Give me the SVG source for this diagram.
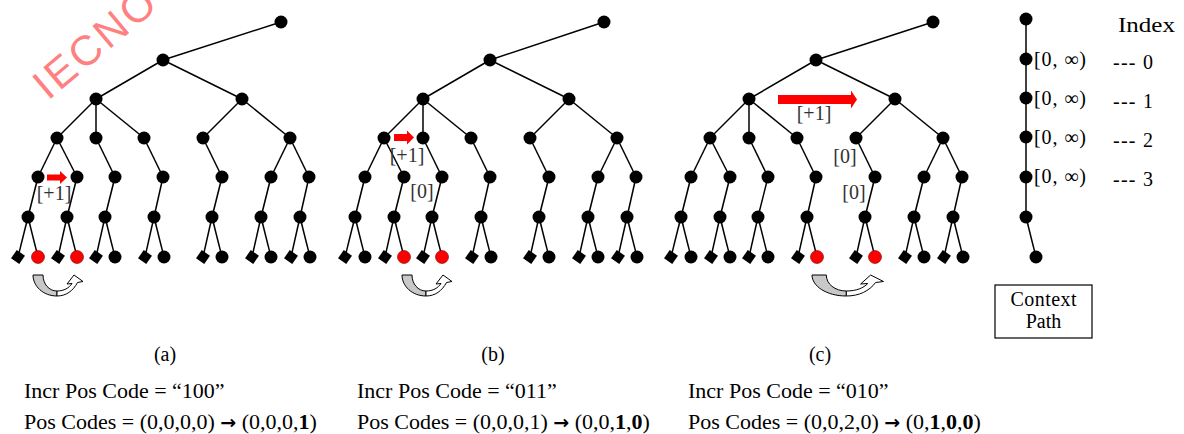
<svg xmlns="http://www.w3.org/2000/svg" xmlns:xlink="http://www.w3.org/1999/xlink" width="1184" height="434" viewBox="0 0 1184 434">
<style>
.e line{stroke:#000;stroke-width:1.5}
.n{fill:#000}
.r{fill:#ff0000;stroke:#700;stroke-width:0.6}
.lbl{font-family:"Liberation Serif","Times New Roman",serif;font-size:20px;fill:#333}
.rt{font-family:"Liberation Serif","Times New Roman",serif;font-size:20px;fill:#000}
.cap{font-family:"Liberation Serif","Times New Roman",serif;font-size:20px;fill:#000}
.bt{font-family:"Liberation Serif","Times New Roman",serif;font-size:22px;fill:#000}
.ar{font-family:"DejaVu Sans",sans-serif;font-weight:bold;font-size:19px}
.ra{fill:#ff0000}
.ga{fill:#c8c8c8;stroke:#000;stroke-width:1}
.wa{fill:#fff;stroke:#000;stroke-width:1}
</style>
<defs>
<rect id="dm" x="-5" y="-5" width="10" height="10" transform="rotate(35)"/>
<g id="curl">
<path class="ga" vector-effect="non-scaling-stroke" d="M0,0 L10,0 C10,9 16,16 24,16 L24,21 C10,21 0,11 0,0 Z"/>
<path class="wa" vector-effect="non-scaling-stroke" d="M24,21 C33,21 40,16 44.5,7.5 L50,6.5 L41,0 L34,9 L39,8.5 C36,13 31,16 24,16 Z"/>
</g>
</defs>
<rect width="1184" height="434" fill="#fff"/>

<text id="watermark" x="0" y="0" transform="translate(48,101) rotate(-40)" font-family="'Liberation Sans',Arial,sans-serif" font-size="42" letter-spacing="3" fill="#ff8080">IECNO</text>

<!-- Tree (a) -->
<g id="tree-a">
<g id="edges-a" class="e">
<line x1="281" y1="22" x2="163" y2="60"/>
<line x1="163" y1="60" x2="96" y2="99"/><line x1="163" y1="60" x2="242" y2="99"/>
<line x1="96" y1="99" x2="57" y2="138"/><line x1="96" y1="99" x2="96" y2="138"/><line x1="96" y1="99" x2="144" y2="138"/>
<line x1="242" y1="99" x2="203" y2="138"/><line x1="242" y1="99" x2="290" y2="138"/>
<line x1="57" y1="138" x2="38" y2="177"/><line x1="57" y1="138" x2="77" y2="177"/>
<line x1="96" y1="138" x2="115" y2="177"/><line x1="144" y1="138" x2="163" y2="177"/>
<line x1="203" y1="138" x2="222" y2="177"/>
<line x1="290" y1="138" x2="271" y2="177"/><line x1="290" y1="138" x2="309" y2="177"/>
<line x1="38" y1="177" x2="28" y2="217"/><line x1="77" y1="177" x2="67" y2="217"/><line x1="115" y1="177" x2="105" y2="217"/><line x1="163" y1="177" x2="154" y2="217"/><line x1="222" y1="177" x2="212" y2="217"/><line x1="271" y1="177" x2="261" y2="217"/><line x1="309" y1="177" x2="300" y2="217"/>
<line x1="28" y1="217" x2="18" y2="257"/><line x1="28" y1="217" x2="38" y2="257"/>
<line x1="67" y1="217" x2="58" y2="257"/><line x1="67" y1="217" x2="77" y2="257"/>
<line x1="105" y1="217" x2="96" y2="257"/><line x1="105" y1="217" x2="115" y2="257"/>
<line x1="154" y1="217" x2="145" y2="257"/><line x1="154" y1="217" x2="164" y2="257"/>
<line x1="212" y1="217" x2="203" y2="257"/><line x1="212" y1="217" x2="222" y2="257"/>
<line x1="261" y1="217" x2="252" y2="257"/><line x1="261" y1="217" x2="271" y2="257"/>
<line x1="300" y1="217" x2="291" y2="257"/><line x1="300" y1="217" x2="310" y2="257"/>
</g>
<g id="nodes-a" class="n">
<g id="a-root"><circle cx="281" cy="22" r="6.5"/></g>
<g id="a-l1"><circle cx="163" cy="60" r="6.5"/></g>
<g id="a-l2"><circle cx="96" cy="99" r="6.5"/><circle cx="242" cy="99" r="6.5"/></g>
<g id="a-l3"><circle cx="57" cy="138" r="6.5"/><circle cx="96" cy="138" r="6.5"/><circle cx="144" cy="138" r="6.5"/><circle cx="203" cy="138" r="6.5"/><circle cx="290" cy="138" r="6.5"/></g>
<g id="a-l4"><circle cx="38" cy="177" r="6.5"/><circle cx="77" cy="177" r="6.5"/><circle cx="115" cy="177" r="6.5"/><circle cx="163" cy="177" r="6.5"/><circle cx="222" cy="177" r="6.5"/><circle cx="271" cy="177" r="6.5"/><circle cx="309" cy="177" r="6.5"/></g>
<g id="a-l5"><circle cx="28" cy="217" r="6.5"/><circle cx="67" cy="217" r="6.5"/><circle cx="105" cy="217" r="6.5"/><circle cx="154" cy="217" r="6.5"/><circle cx="212" cy="217" r="6.5"/><circle cx="261" cy="217" r="6.5"/><circle cx="300" cy="217" r="6.5"/></g>
<g id="a-leaves">
<use xlink:href="#dm" x="18" y="257"/><circle class="r" cx="38" cy="257" r="6.5"/>
<use xlink:href="#dm" x="58" y="257"/><circle class="r" cx="77" cy="257" r="6.5"/>
<use xlink:href="#dm" x="96" y="257"/><circle cx="115" cy="257" r="6.5"/>
<use xlink:href="#dm" x="145" y="257"/><circle cx="164" cy="257" r="6.5"/>
<use xlink:href="#dm" x="203" y="257"/><circle cx="222" cy="257" r="6.5"/>
<use xlink:href="#dm" x="252" y="257"/><circle cx="271" cy="257" r="6.5"/>
<use xlink:href="#dm" x="291" y="257"/><circle cx="310" cy="257" r="6.5"/>
</g>
</g>
<g id="a-mark">
<rect class="ra" x="47" y="174.5" width="13" height="6"/><polygon class="ra" points="60,171 67,177.5 60,184"/>
<text class="lbl" x="54" y="200" text-anchor="middle">[+1]</text>
</g>
<g id="a-curl" transform="translate(33,275)"><use xlink:href="#curl"/></g>
</g>

<!-- Tree (b) -->
<g id="tree-b">
<g transform="translate(327,0)">
<g id="edges-b" class="e">
<line x1="277" y1="22" x2="163" y2="60"/>
<line x1="163" y1="60" x2="96" y2="99"/><line x1="163" y1="60" x2="242" y2="99"/>
<line x1="96" y1="99" x2="57" y2="138"/><line x1="96" y1="99" x2="96" y2="138"/><line x1="96" y1="99" x2="144" y2="138"/>
<line x1="242" y1="99" x2="203" y2="138"/><line x1="242" y1="99" x2="290" y2="138"/>
<line x1="57" y1="138" x2="38" y2="177"/><line x1="57" y1="138" x2="77" y2="177"/>
<line x1="96" y1="138" x2="115" y2="177"/><line x1="144" y1="138" x2="163" y2="177"/>
<line x1="203" y1="138" x2="222" y2="177"/>
<line x1="290" y1="138" x2="271" y2="177"/><line x1="290" y1="138" x2="309" y2="177"/>
<line x1="38" y1="177" x2="28" y2="217"/><line x1="77" y1="177" x2="67" y2="217"/><line x1="115" y1="177" x2="105" y2="217"/><line x1="163" y1="177" x2="154" y2="217"/><line x1="222" y1="177" x2="212" y2="217"/><line x1="271" y1="177" x2="261" y2="217"/><line x1="309" y1="177" x2="300" y2="217"/>
<line x1="28" y1="217" x2="18" y2="257"/><line x1="28" y1="217" x2="38" y2="257"/>
<line x1="67" y1="217" x2="58" y2="257"/><line x1="67" y1="217" x2="77" y2="257"/>
<line x1="105" y1="217" x2="96" y2="257"/><line x1="105" y1="217" x2="115" y2="257"/>
<line x1="154" y1="217" x2="145" y2="257"/><line x1="154" y1="217" x2="164" y2="257"/>
<line x1="212" y1="217" x2="203" y2="257"/><line x1="212" y1="217" x2="222" y2="257"/>
<line x1="261" y1="217" x2="252" y2="257"/><line x1="261" y1="217" x2="271" y2="257"/>
<line x1="300" y1="217" x2="291" y2="257"/><line x1="300" y1="217" x2="310" y2="257"/>
</g>
<g id="nodes-b" class="n">
<g id="b-root"><circle cx="277" cy="22" r="6.5"/></g>
<g id="b-l1"><circle cx="163" cy="60" r="6.5"/></g>
<g id="b-l2"><circle cx="96" cy="99" r="6.5"/><circle cx="242" cy="99" r="6.5"/></g>
<g id="b-l3"><circle cx="57" cy="138" r="6.5"/><circle cx="96" cy="138" r="6.5"/><circle cx="144" cy="138" r="6.5"/><circle cx="203" cy="138" r="6.5"/><circle cx="290" cy="138" r="6.5"/></g>
<g id="b-l4"><circle cx="38" cy="177" r="6.5"/><circle cx="77" cy="177" r="6.5"/><circle cx="115" cy="177" r="6.5"/><circle cx="163" cy="177" r="6.5"/><circle cx="222" cy="177" r="6.5"/><circle cx="271" cy="177" r="6.5"/><circle cx="309" cy="177" r="6.5"/></g>
<g id="b-l5"><circle cx="28" cy="217" r="6.5"/><circle cx="67" cy="217" r="6.5"/><circle cx="105" cy="217" r="6.5"/><circle cx="154" cy="217" r="6.5"/><circle cx="212" cy="217" r="6.5"/><circle cx="261" cy="217" r="6.5"/><circle cx="300" cy="217" r="6.5"/></g>
<g id="b-leaves">
<use xlink:href="#dm" x="18" y="257"/><circle cx="38" cy="257" r="6.5"/>
<use xlink:href="#dm" x="58" y="257"/><circle class="r" cx="77" cy="257" r="6.5"/>
<use xlink:href="#dm" x="96" y="257"/><circle class="r" cx="115" cy="257" r="6.5"/>
<use xlink:href="#dm" x="145" y="257"/><circle cx="164" cy="257" r="6.5"/>
<use xlink:href="#dm" x="203" y="257"/><circle cx="222" cy="257" r="6.5"/>
<use xlink:href="#dm" x="252" y="257"/><circle cx="271" cy="257" r="6.5"/>
<use xlink:href="#dm" x="291" y="257"/><circle cx="310" cy="257" r="6.5"/>
</g>
</g>
</g>
<g id="b-mark">
<rect class="ra" x="394" y="134" width="13" height="7"/><polygon class="ra" points="407,130.5 414,137.5 407,144.5"/>
<text class="lbl" x="407" y="162" text-anchor="middle">[+1]</text>
<text class="lbl" x="422" y="198" text-anchor="middle">[0]</text>
</g>
<g id="b-curl" transform="translate(402,275)"><use xlink:href="#curl"/></g>
</g>

<!-- Tree (c) -->
<g id="tree-c">
<g transform="translate(653,0)">
<g id="edges-c" class="e">
<line x1="280" y1="22" x2="163" y2="60"/>
<line x1="163" y1="60" x2="96" y2="99"/><line x1="163" y1="60" x2="242" y2="99"/>
<line x1="96" y1="99" x2="57" y2="138"/><line x1="96" y1="99" x2="96" y2="138"/><line x1="96" y1="99" x2="144" y2="138"/>
<line x1="242" y1="99" x2="203" y2="138"/><line x1="242" y1="99" x2="290" y2="138"/>
<line x1="57" y1="138" x2="38" y2="177"/><line x1="57" y1="138" x2="77" y2="177"/>
<line x1="96" y1="138" x2="115" y2="177"/><line x1="144" y1="138" x2="163" y2="177"/>
<line x1="203" y1="138" x2="222" y2="177"/>
<line x1="290" y1="138" x2="271" y2="177"/><line x1="290" y1="138" x2="309" y2="177"/>
<line x1="38" y1="177" x2="28" y2="217"/><line x1="77" y1="177" x2="67" y2="217"/><line x1="115" y1="177" x2="105" y2="217"/><line x1="163" y1="177" x2="154" y2="217"/><line x1="222" y1="177" x2="212" y2="217"/><line x1="271" y1="177" x2="261" y2="217"/><line x1="309" y1="177" x2="300" y2="217"/>
<line x1="28" y1="217" x2="18" y2="257"/><line x1="28" y1="217" x2="38" y2="257"/>
<line x1="67" y1="217" x2="58" y2="257"/><line x1="67" y1="217" x2="77" y2="257"/>
<line x1="105" y1="217" x2="96" y2="257"/><line x1="105" y1="217" x2="115" y2="257"/>
<line x1="154" y1="217" x2="145" y2="257"/><line x1="154" y1="217" x2="164" y2="257"/>
<line x1="212" y1="217" x2="203" y2="257"/><line x1="212" y1="217" x2="222" y2="257"/>
<line x1="261" y1="217" x2="252" y2="257"/><line x1="261" y1="217" x2="271" y2="257"/>
<line x1="300" y1="217" x2="291" y2="257"/><line x1="300" y1="217" x2="310" y2="257"/>
</g>
<g id="nodes-c" class="n">
<g id="c-root"><circle cx="280" cy="22" r="6.5"/></g>
<g id="c-l1"><circle cx="163" cy="60" r="6.5"/></g>
<g id="c-l2"><circle cx="96" cy="99" r="6.5"/><circle cx="242" cy="99" r="6.5"/></g>
<g id="c-l3"><circle cx="57" cy="138" r="6.5"/><circle cx="96" cy="138" r="6.5"/><circle cx="144" cy="138" r="6.5"/><circle cx="203" cy="138" r="6.5"/><circle cx="290" cy="138" r="6.5"/></g>
<g id="c-l4"><circle cx="38" cy="177" r="6.5"/><circle cx="77" cy="177" r="6.5"/><circle cx="115" cy="177" r="6.5"/><circle cx="163" cy="177" r="6.5"/><circle cx="222" cy="177" r="6.5"/><circle cx="271" cy="177" r="6.5"/><circle cx="309" cy="177" r="6.5"/></g>
<g id="c-l5"><circle cx="28" cy="217" r="6.5"/><circle cx="67" cy="217" r="6.5"/><circle cx="105" cy="217" r="6.5"/><circle cx="154" cy="217" r="6.5"/><circle cx="212" cy="217" r="6.5"/><circle cx="261" cy="217" r="6.5"/><circle cx="300" cy="217" r="6.5"/></g>
<g id="c-leaves">
<use xlink:href="#dm" x="18" y="257"/><circle cx="38" cy="257" r="6.5"/>
<use xlink:href="#dm" x="58" y="257"/><circle cx="77" cy="257" r="6.5"/>
<use xlink:href="#dm" x="96" y="257"/><circle cx="115" cy="257" r="6.5"/>
<use xlink:href="#dm" x="145" y="257"/><circle class="r" cx="164" cy="257" r="6.5"/>
<use xlink:href="#dm" x="203" y="257"/><circle class="r" cx="222" cy="257" r="6.5"/>
<use xlink:href="#dm" x="252" y="257"/><circle cx="271" cy="257" r="6.5"/>
<use xlink:href="#dm" x="291" y="257"/><circle cx="310" cy="257" r="6.5"/>
</g>
</g>
</g>
<g id="c-mark">
<rect class="ra" x="778" y="95" width="73" height="9"/><polygon class="ra" points="851,90.5 857,99.5 851,108.5"/>
<text class="lbl" x="814" y="120" text-anchor="middle">[+1]</text>
<text class="lbl" x="845" y="163" text-anchor="middle">[0]</text>
<text class="lbl" x="854" y="199" text-anchor="middle">[0]</text>
</g>
<g id="c-curl" transform="translate(812,275) scale(1.43,1)"><use xlink:href="#curl"/></g>
</g>

<!-- Context path -->
<g id="context-path">
<g id="edges-ctx" class="e">
<line x1="1026" y1="19" x2="1026" y2="217"/>
<line x1="1026" y1="217" x2="1036" y2="257"/>
</g>
<g id="ctx-nodes" class="n">
<circle cx="1026" cy="19" r="6.5"/><circle cx="1026" cy="59" r="6.5"/><circle cx="1026" cy="98" r="6.5"/><circle cx="1026" cy="137" r="6.5"/><circle cx="1026" cy="177" r="6.5"/><circle cx="1026" cy="217" r="6.5"/><circle cx="1036" cy="257" r="6.5"/>
</g>
<g id="ctx-ranges" class="rt">
<text x="1034" y="66" textLength="52">[0, ∞)</text>
<text x="1034" y="105" textLength="52">[0, ∞)</text>
<text x="1034" y="144" textLength="52">[0, ∞)</text>
<text x="1034" y="183" textLength="52">[0, ∞)</text>
</g>
<g id="index-labels" class="rt">
<text x="1118" y="32" textLength="57" lengthAdjust="spacingAndGlyphs">Index</text>
<text x="1113" y="69" textLength="40">--- 0</text>
<text x="1113" y="108" textLength="40">--- 1</text>
<text x="1113" y="147" textLength="40">--- 2</text>
<text x="1113" y="186" textLength="40">--- 3</text>
</g>
<g id="ctx-box">
<rect x="995" y="285" width="97" height="53" fill="none" stroke="#000" stroke-width="1.2"/>
<text class="cap" x="1043.5" y="306" text-anchor="middle" textLength="66">Context</text>
<text class="cap" x="1043.5" y="328" text-anchor="middle">Path</text>
</g>
</g>

<!-- Captions -->
<g id="captions">
<text class="cap" x="165" y="361" text-anchor="middle">(a)</text>
<text class="cap" x="493" y="361" text-anchor="middle">(b)</text>
<text class="cap" x="820" y="361" text-anchor="middle">(c)</text>
<text class="bt" x="24" y="398">Incr Pos Code = “100”</text>
<text class="bt" x="24" y="429">Pos Codes = (0,0,0,0) <tspan class="ar">→</tspan> (0,0,0,<tspan font-weight="bold">1</tspan>)</text>
<text class="bt" x="357" y="398">Incr Pos Code = “011”</text>
<text class="bt" x="357" y="429">Pos Codes = (0,0,0,1) <tspan class="ar">→</tspan> (0,0,<tspan font-weight="bold">1</tspan>,<tspan font-weight="bold">0</tspan>)</text>
<text class="bt" x="688" y="398">Incr Pos Code = “010”</text>
<text class="bt" x="688" y="429">Pos Codes = (0,0,2,0) <tspan class="ar">→</tspan> (0,<tspan font-weight="bold">1</tspan>,<tspan font-weight="bold">0</tspan>,<tspan font-weight="bold">0</tspan>)</text>
</g>
</svg>
